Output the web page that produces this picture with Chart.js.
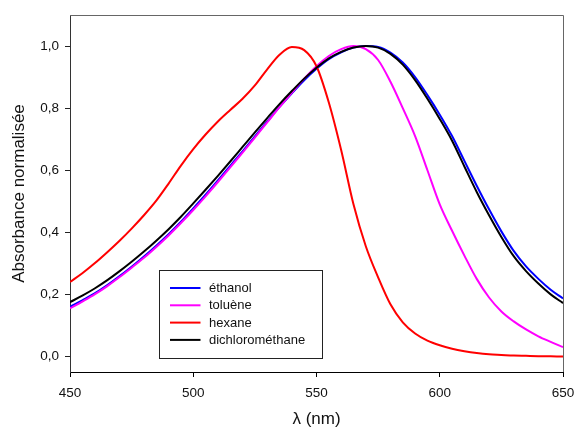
<!DOCTYPE html>
<html>
<head>
<meta charset="utf-8">
<script src="https://cdn.jsdelivr.net/npm/chart.js@4"></script>
<style>
html,body{margin:0;padding:0;background:#fff;}
#wrap{width:574px;height:432px;}
</style>
</head>
<body>
<div id="wrap"><canvas id="c" width="574" height="432"></canvas></div>
<script>
const wavelengths = [450,455,460,465,470,475,480,485,490,495,500,505,510,515,520,525,530,535,540,545,550,555,560,565,570,575,580,585,590,595,600,605,610,615,620,625,630,635,640,645,650];
const ethanol = [0.16,0.181,0.203,0.229,0.258,0.289,0.322,0.357,0.394,0.434,0.477,0.521,0.567,0.614,0.661,0.709,0.757,0.804,0.848,0.89,0.927,0.958,0.98,0.995,1.0,0.997,0.979,0.947,0.9,0.842,0.779,0.71,0.63,0.55,0.474,0.403,0.34,0.29,0.25,0.215,0.187];
const toluene = [0.155,0.177,0.2,0.226,0.255,0.286,0.318,0.353,0.39,0.43,0.472,0.516,0.562,0.609,0.657,0.705,0.754,0.803,0.85,0.895,0.935,0.968,0.99,1.0,0.99,0.955,0.885,0.8,0.71,0.6,0.49,0.405,0.325,0.25,0.19,0.145,0.113,0.087,0.065,0.047,0.03];
const hexane = [0.24,0.268,0.3,0.335,0.372,0.412,0.455,0.502,0.557,0.615,0.668,0.715,0.757,0.794,0.83,0.873,0.925,0.972,0.997,0.987,0.935,0.818,0.665,0.49,0.355,0.255,0.168,0.11,0.074,0.051,0.036,0.025,0.017,0.011,0.007,0.005,0.003,0.002,0.001,0.0005,0.0];
const dichloromethane = [0.175,0.196,0.219,0.245,0.274,0.305,0.338,0.373,0.41,0.45,0.493,0.537,0.582,0.628,0.675,0.722,0.768,0.813,0.855,0.895,0.93,0.96,0.981,0.995,1.0,0.995,0.975,0.94,0.89,0.83,0.765,0.695,0.612,0.53,0.455,0.385,0.323,0.275,0.235,0.2,0.172];
const seriesNames = ['éthanol','toluène','hexane','dichlorométhane'];
const xTicks = [450,500,550,600,650];
const yTicks = [0,0.2,0.4,0.6,0.8,1.0];

const FONT = "'Liberation Sans', Arial, sans-serif";
const toXY = arr => wavelengths.map((w,i)=>({x:w,y:arr[i]}));

const frame = {
  id:'frame',
  afterDraw(chart){
    const {ctx, chartArea:a} = chart;
    ctx.save();
    ctx.strokeStyle = '#666';
    ctx.lineWidth = 1;
    ctx.beginPath();
    ctx.moveTo(a.left, a.top+0.5);
    ctx.lineTo(a.right+0.5, a.top+0.5);
    ctx.lineTo(a.right+0.5, a.bottom);
    ctx.stroke();
    // legend box
    const bx = a.left + 89.5, by = a.top + 255.5, bw = 163, bh = 88;
    ctx.fillStyle = '#fff';
    ctx.fillRect(bx, by, bw, bh);
    ctx.strokeStyle = '#222';
    ctx.strokeRect(bx, by, bw, bh);
    ctx.font = "13px " + FONT;
    ctx.textBaseline = 'middle';
    ctx.textAlign = 'left';
    const ds = chart.data.datasets;
    for (let i=0;i<ds.length;i++){
      const yy = by + 17.5 + i*17.3;
      ctx.strokeStyle = ds[i].borderColor;
      ctx.lineWidth = 2;
      ctx.beginPath();
      ctx.moveTo(bx+10.5, yy);
      ctx.lineTo(bx+41, yy);
      ctx.stroke();
      ctx.fillStyle = '#111';
      ctx.fillText(ds[i].label, bx+49.5, yy+0.5);
    }
    ctx.restore();
  }
};

const mk = (label, arr, color, order) => ({
  label, data: toXY(arr), borderColor: color, backgroundColor: color,
  borderWidth: 2, pointRadius: 0, fill: false,
  cubicInterpolationMode: 'monotone', order
});

new Chart(document.getElementById('c'), {
  type: 'line',
  data: {
    datasets: [
      mk(seriesNames[0], ethanol, '#0000FF', 3),
      mk(seriesNames[1], toluene, '#FF00FF', 2),
      mk(seriesNames[2], hexane, '#FF0000', 1),
      mk(seriesNames[3], dichloromethane, '#000000', 0)
    ]
  },
  options: {
    responsive: false,
    animation: false,
    layout: { padding: { top: 15, right: 11, left: 0, bottom: 0 } },
    plugins: { legend: { display: false }, tooltip: { enabled: false } },
    scales: {
      x: {
        type: 'linear', min: 450, max: 650,
        afterFit(s){ s.height = 60; s.paddingLeft = 0; s.paddingRight = 0; },
        afterBuildTicks(s){ s.ticks = xTicks.map(v=>({value:v})); },
        grid: { drawOnChartArea: false, drawTicks: true, tickLength: 5, color: '#000', tickColor: '#000' },
        border: { display: true, color: '#000', width: 1 },
        ticks: { color: '#111', font: { family: FONT, size: 13.5 }, padding: 8, maxRotation: 0, autoSkip: false },
        title: { display: true, text: 'λ (nm)', color: '#111', font: { family: FONT, size: 17 }, padding: { top: 0, bottom: 2 } }
      },
      y: {
        type: 'linear', min: -0.05, max: 1.1,
        afterFit(s){ s.width = 70; s.paddingTop = 0; s.paddingBottom = 0; },
        afterBuildTicks(s){ s.ticks = yTicks.map(v=>({value:v})); },
        grid: { drawOnChartArea: false, drawTicks: true, tickLength: 5, color: '#000', tickColor: '#222' },
        border: { display: true, color: '#333', width: 1 },
        ticks: { color: '#111', font: { family: FONT, size: 13.5 }, padding: 6,
          callback: v => v.toFixed(1).replace('.', ',') },
        title: { display: true, text: 'Absorbance normalisée', color: '#111', font: { family: FONT, size: 17 }, padding: { top: 9, bottom: 0 } }
      }
    }
  },
  plugins: [frame]
});
</script>
</body>
</html>
